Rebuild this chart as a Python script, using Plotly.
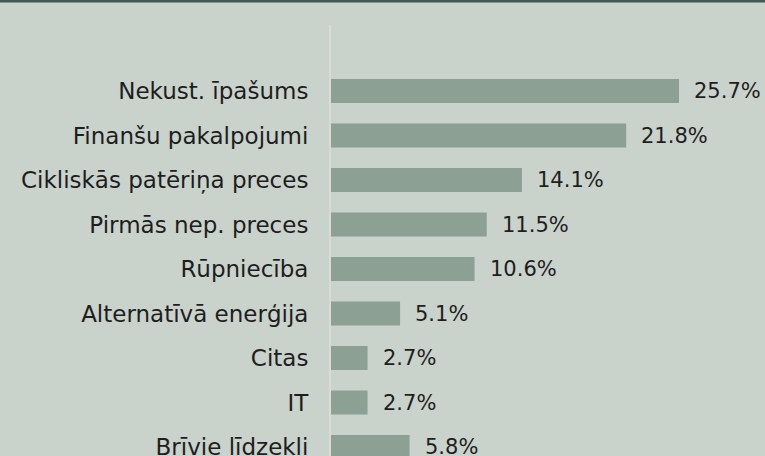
import plotly.graph_objects as go

categories = ["Nekust. īpašums", "Finanšu pakalpojumi", "Cikliskās patēriņa preces",
              "Pirmās nep. preces", "Rūpniecība", "Alternatīvā enerģija",
              "Citas", "IT", "Brīvie līdzekļi"]
values = [25.7, 21.8, 14.1, 11.5, 10.6, 5.1, 2.7, 2.7, 5.8]
value_labels = ["25.7%", "21.8%", "14.1%", "11.5%", "10.6%", "5.1%", "2.7%", "2.7%", "5.8%"]

BG = "#c9d2cb"
BAR = "#8ca094"
FONT = "DejaVu Sans, sans-serif"

fig = go.Figure()
fig.add_trace(go.Bar(
    x=values, y=categories, orientation="h",
    marker=dict(color=BAR, line=dict(width=0)),
    width=0.54, hoverinfo="skip",
))

for c, v, t in zip(categories, values, value_labels):
    fig.add_annotation(x=v, y=c, text=t, xanchor="left", yanchor="middle",
                       xshift=13, showarrow=False,
                       font=dict(family=FONT, size=21, color="#1e1e1e"))

fig.update_layout(
    width=765, height=456,
    margin=dict(l=331, r=0, t=25, b=0, autoexpand=False),
    paper_bgcolor=BG, plot_bgcolor=BG,
    showlegend=False,
    bargap=0.46,
    font=dict(family=FONT, size=23, color="#1e1e1e"),
    xaxis=dict(range=[0, 32.05], visible=False, showgrid=False, zeroline=False, fixedrange=True),
    yaxis=dict(range=[8.2, -1.483], showgrid=False, zeroline=False,
               showline=True, linecolor="#dadbd5", linewidth=2,
               ticks="", ticklabelstandoff=16, automargin=False,
               tickfont=dict(family=FONT, size=23, color="#1e1e1e")),
    shapes=[dict(type="rect", xref="paper", yref="paper",
                 x0=-331/434, x1=1.0, y0=1 + 22.5/431, y1=1 + 25/431,
                 fillcolor="#3e5852", line=dict(width=0))],
)

fig.write_html("out.html")
